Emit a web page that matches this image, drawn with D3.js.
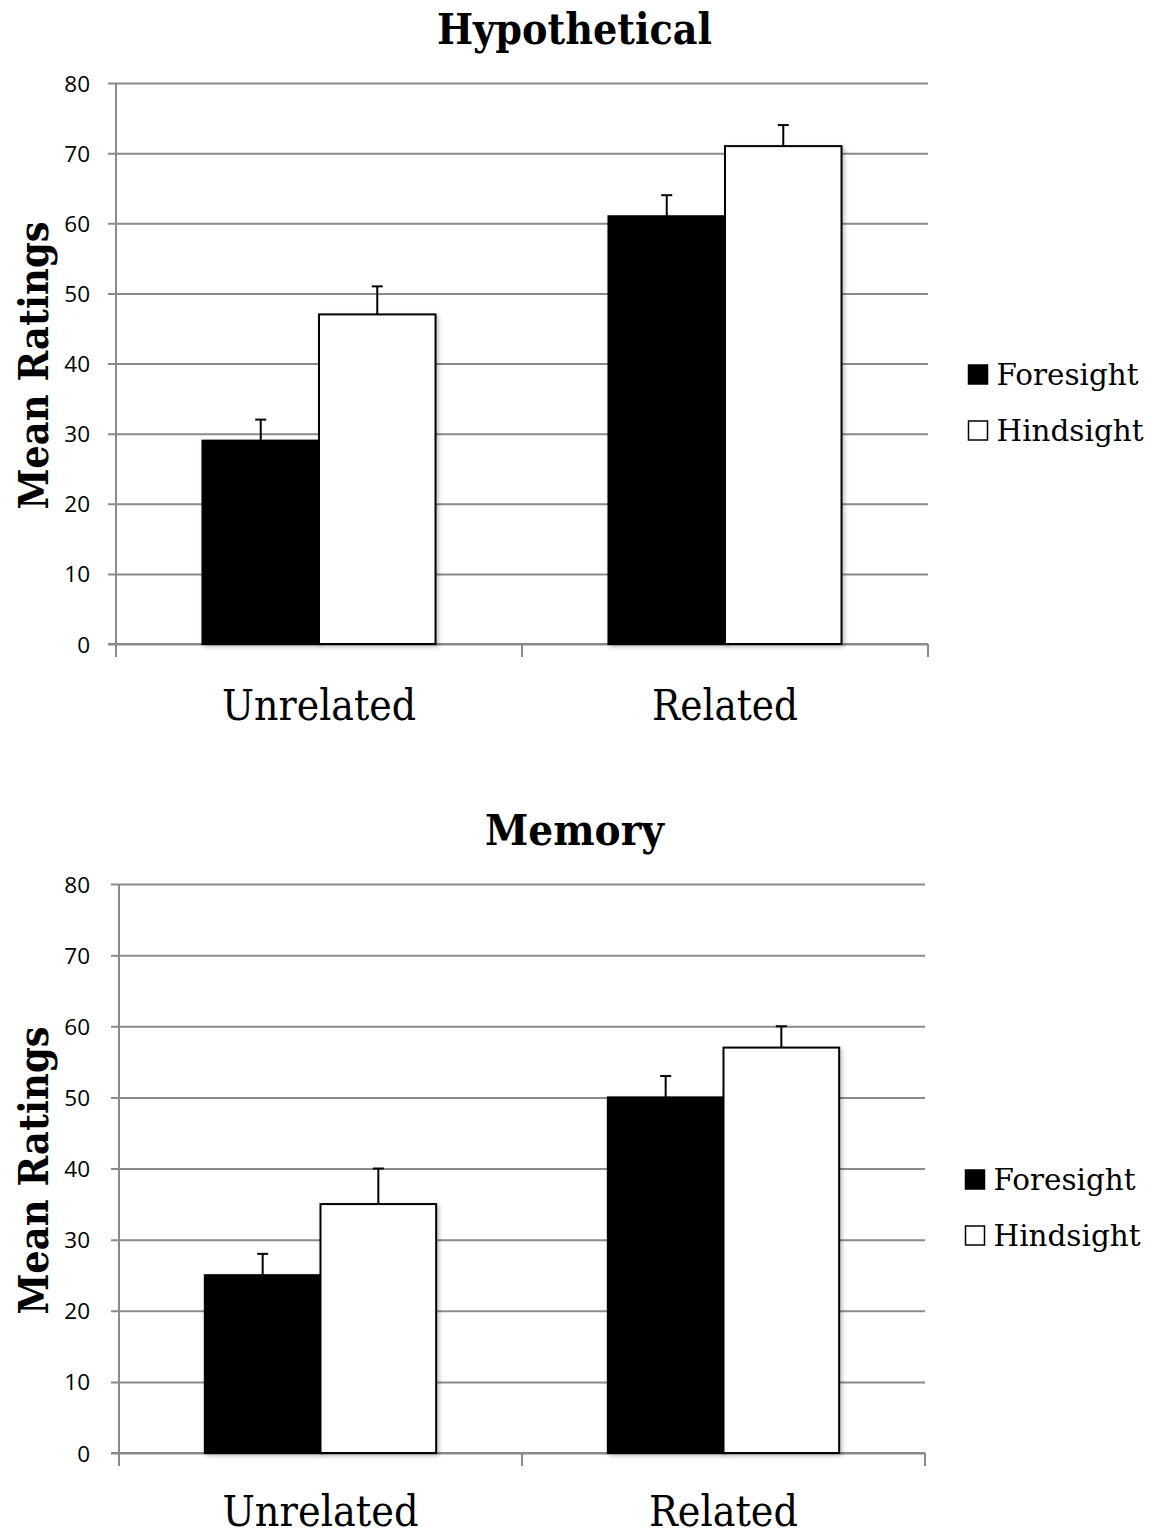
<!DOCTYPE html>
<html>
<head>
<meta charset="utf-8">
<script src="https://cdn.jsdelivr.net/npm/d3@7"></script>
<style>
  html, body { margin: 0; padding: 0; background: #fff; }
  svg { display: block; }
</style>
</head>
<body>
<svg id="chart" width="1153" height="1533"></svg>
<script>
// ---- data ----
const categories = ["Unrelated", "Related"];
const seriesNames = ["Foresight", "Hindsight"];
const yTicks = [0, 10, 20, 30, 40, 50, 60, 70, 80];

const hypoForesight = [29, 61];
const hypoHindsight = [47, 71];
const hypoForesightErr = [3, 3];
const hypoHindsightErr = [4, 3];

const memForesight = [25, 50];
const memHindsight = [35, 57];
const memForesightErr = [3, 3];
const memHindsightErr = [5, 3];

const svg = d3.select("#chart");
const defs = svg.append("defs");
const f = defs.append("filter").attr("id", "shadow")
  .attr("x", "-10%").attr("y", "-10%").attr("width", "130%").attr("height", "130%");
f.append("feDropShadow").attr("dx", 2).attr("dy", 2).attr("stdDeviation", 2)
  .attr("flood-color", "#000").attr("flood-opacity", 0.25);

const SERIF = "'DejaVu Serif', serif";
const SANS = "'Open Sans', 'Liberation Sans', sans-serif";
const GRID = "#8a8a8a";

function drawChart(cfg) {
  const g = svg.append("g");
  const x = d3.scaleBand().domain(categories).range([cfg.left, cfg.right]).padding(0);
  const y = d3.scaleLinear().domain([0, 80]).range([cfg.bottom, cfg.top]);
  const groupFrac = 0.574;
  const sub = d3.scaleBand().domain(seriesNames)
    .range([0, x.bandwidth() * groupFrac]).padding(0);
  const groupOffset = x.bandwidth() * (1 - groupFrac) / 2;

  // gridlines + y ticks
  const yAxis = d3.axisLeft(y).tickValues(yTicks)
    .tickSize(-(cfg.right - cfg.left)).tickSizeOuter(0).tickPadding(0)
    .tickFormat(d3.format("d"));
  const ya = g.append("g").attr("transform", `translate(${cfg.left},0)`).call(yAxis);
  ya.select(".domain").remove();
  ya.selectAll(".tick line").attr("stroke", GRID).attr("stroke-width", 2)
    .attr("x1", -8).attr("x2", cfg.right - cfg.left);
  ya.selectAll(".tick text")
    .attr("x", -(cfg.left - 90)).attr("dy", "0.36em")
    .attr("font-family", SANS).attr("font-size", 22.5).attr("fill", "#000")
    .attr("text-anchor", "end");

  // y axis line
  g.append("line").attr("x1", cfg.left).attr("x2", cfg.left)
    .attr("y1", cfg.top).attr("y2", cfg.bottom + 13)
    .attr("stroke", GRID).attr("stroke-width", 2);
  // x axis baseline
  g.append("line").attr("x1", cfg.left - 8).attr("x2", cfg.right)
    .attr("y1", cfg.bottom).attr("y2", cfg.bottom)
    .attr("stroke", GRID).attr("stroke-width", 2);
  // category boundary ticks
  const bounds = categories.map(c => x(c)).concat([cfg.right]);
  g.selectAll(".ctick").data(bounds.slice(1)).enter().append("line")
    .attr("x1", d => d).attr("x2", d => d)
    .attr("y1", cfg.bottom).attr("y2", cfg.bottom + 13)
    .attr("stroke", GRID).attr("stroke-width", 2);

  // bars
  const rows = [];
  categories.forEach((c, i) => {
    rows.push({ cat: c, s: "Foresight", v: cfg.fore[i], e: cfg.foreErr[i] });
    rows.push({ cat: c, s: "Hindsight", v: cfg.hind[i], e: cfg.hindErr[i] });
  });
  const bx = d => x(d.cat) + groupOffset + sub(d.s);

  const eb = g.append("g");
  eb.selectAll("line.stem").data(rows).enter().append("line")
    .attr("x1", d => bx(d) + sub.bandwidth() / 2).attr("x2", d => bx(d) + sub.bandwidth() / 2)
    .attr("y1", d => y(d.v)).attr("y2", d => y(d.v + d.e))
    .attr("stroke", "#000").attr("stroke-width", 2);
  eb.selectAll("line.cap").data(rows).enter().append("line")
    .attr("x1", d => bx(d) + sub.bandwidth() / 2 - 5.5).attr("x2", d => bx(d) + sub.bandwidth() / 2 + 5.5)
    .attr("y1", d => y(d.v + d.e)).attr("y2", d => y(d.v + d.e))
    .attr("stroke", "#000").attr("stroke-width", 2);

  g.append("g").selectAll("rect").data(rows).enter().append("rect")
    .attr("x", d => bx(d)).attr("width", sub.bandwidth())
    .attr("y", d => y(d.v)).attr("height", d => y(0) - y(d.v))
    .attr("fill", d => d.s === "Foresight" ? "#000" : "#fff")
    .attr("stroke", "#000").attr("stroke-width", 2)
    .attr("filter", "url(#shadow)");

  // category labels
  g.selectAll(".clabel").data(categories).enter().append("text")
    .attr("x", d => x(d) + x.bandwidth() / 2)
    .attr("y", cfg.bottom + cfg.catOffset)
    .attr("text-anchor", "middle")
    .attr("font-family", SERIF).attr("font-size", 43).attr("fill", "#000")
    .attr("textLength", (d, i) => cfg.catLen[i]).attr("lengthAdjust", "spacingAndGlyphs")
    .text(d => d);

  // title
  g.append("text").attr("x", cfg.titleX).attr("y", cfg.titleY)
    .attr("text-anchor", "middle")
    .attr("font-family", SERIF).attr("font-weight", "bold").attr("font-size", 42)
    .attr("textLength", cfg.titleLen).attr("lengthAdjust", "spacingAndGlyphs")
    .text(cfg.title);

  // y axis title
  const cy = (cfg.top + cfg.bottom) / 2 + 2;
  g.append("text").attr("transform", `translate(48,${cy}) rotate(-90)`)
    .attr("text-anchor", "middle")
    .attr("font-family", SERIF).attr("font-weight", "bold").attr("font-size", 41)
    .attr("textLength", 288).attr("lengthAdjust", "spacingAndGlyphs")
    .text("Mean Ratings");

  // legend
  const lg = g.append("g");
  seriesNames.forEach((s, i) => {
    const by = cfg.legendY + i * 56;
    lg.append("rect").attr("x", cfg.legendX).attr("y", by - 20)
      .attr("width", 19).attr("height", 19)
      .attr("fill", s === "Foresight" ? "#000" : "#fff")
      .attr("stroke", "#000").attr("stroke-width", 1.5);
    lg.append("text").attr("x", cfg.legendX + 28).attr("y", by)
      .attr("font-family", SERIF).attr("font-size", 30)
      .attr("textLength", s === "Foresight" ? 142 : 147).attr("lengthAdjust", "spacingAndGlyphs")
      .text(s);
  });
}

drawChart({
  title: "Hypothetical", titleX: 574.5, titleY: 44, titleLen: 275,
  left: 116, right: 928, top: 83, bottom: 644,
  fore: hypoForesight, hind: hypoHindsight,
  foreErr: hypoForesightErr, hindErr: hypoHindsightErr,
  catLen: [194, 146], catOffset: 76,
  legendX: 968.5, legendY: 385
});

drawChart({
  title: "Memory", titleX: 574.5, titleY: 845, titleLen: 179,
  left: 119, right: 925, top: 884, bottom: 1453,
  fore: memForesight, hind: memHindsight,
  foreErr: memForesightErr, hindErr: memHindsightErr,
  catLen: [196, 149], catOffset: 73,
  legendX: 965.5, legendY: 1190
});
</script>
</body>
</html>
